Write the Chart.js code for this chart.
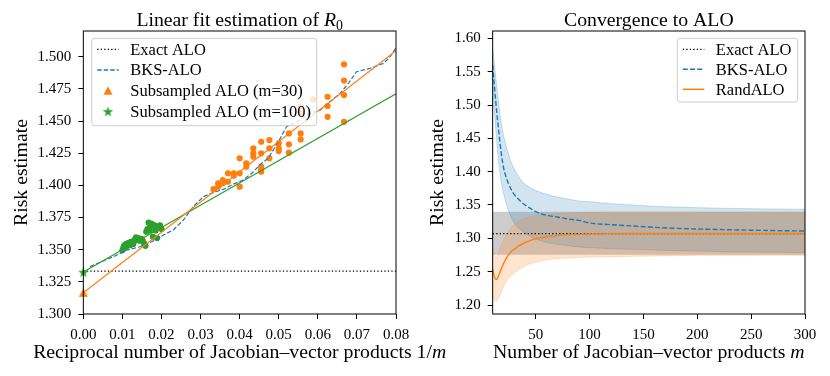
<!DOCTYPE html>
<html><head><meta charset="utf-8">
<script src="https://cdn.jsdelivr.net/npm/chart.js@4.4.1/dist/chart.umd.min.js"></script>
<style>
html,body{margin:0;padding:0;background:#fff;}
#wrap{position:relative;width:830px;height:376px;overflow:hidden;background:#fff;}
canvas{position:absolute;top:0;}
#c1{left:0;} #c2{left:415px;}
</style></head><body>
<div id="wrap"><canvas id="c1" width="480" height="376"></canvas><canvas id="c2" width="415" height="376"></canvas></div>
<script>
// ---------------- DATA: left panel ----------------
const leftXTicks = [0, 0.01, 0.02, 0.03, 0.04, 0.05, 0.06, 0.07, 0.08];
const leftYTicks = [1.300, 1.325, 1.350, 1.375, 1.400, 1.425, 1.450, 1.475, 1.500];
const exactALOLeft = 1.3333;
const bksX = [0.0017,0.0045,0.0077,0.0111,0.0145,0.0175,0.0205,0.0230,0.0256,0.0281,0.0307,0.0333,0.0363,0.0384,0.0409,0.0431,0.0456,0.0473,0.0486,0.0499,0.0520,0.0546,0.0580,0.0606,0.0635,0.0657,0.0680,0.0699,0.0734,0.0768,0.0785,0.0800];
const bksY = [1.3368,1.3405,1.3445,1.3497,1.3523,1.3562,1.3614,1.3653,1.3730,1.3834,1.3912,1.3945,1.3975,1.4010,1.4041,1.4094,1.4171,1.4210,1.4275,1.4340,1.4456,1.4494,1.4560,1.4585,1.4660,1.4715,1.4800,1.4883,1.4910,1.4948,1.5000,1.5070];
const sub30X = [0.0333,0.0345,0.0345,0.0357,0.0357,0.0370,0.0370,0.0385,0.0385,0.0400,0.0400,0.0400,0.0417,0.0417,0.0435,0.0435,0.0435,0.0455,0.0455,0.0455,0.0455,0.0455,0.0476,0.0476,0.0476,0.0500,0.0500,0.0500,0.0526,0.0526,0.0526,0.0556,0.0556,0.0556,0.0556,0.0588,0.0625,0.0625,0.0625,0.0667,0.0667,0.0667,0.0667];
const sub30Y = [1.3970,1.4016,1.3990,1.4041,1.4016,1.4094,1.4028,1.4094,1.4075,1.4210,1.4094,1.3990,1.4171,1.4145,1.4288,1.4249,1.4223,1.4339,1.4249,1.4145,1.4119,1.4106,1.4352,1.4288,1.4210,1.4327,1.4288,1.4267,1.4404,1.4319,1.4254,1.4611,1.4560,1.4404,1.4357,1.4668,1.4689,1.4617,1.4533,1.4940,1.4815,1.4702,1.4494];
const sub100X = [0.0100,0.0102,0.0104,0.0106,0.0108,0.0110,0.0112,0.0114,0.0116,0.0118,0.0120,0.0122,0.0125,0.0128,0.0130,0.0133,0.0135,0.0138,0.0141,0.0143,0.0145,0.0149,0.0152,0.0156,0.0159,0.0161,0.0164,0.0167,0.0170,0.0172,0.0175,0.0178,0.0182,0.0185,0.0189,0.0192,0.0196,0.0200];
const sub100Y = [1.3495,1.3510,1.3525,1.3535,1.3520,1.3545,1.3530,1.3550,1.3540,1.3555,1.3535,1.3560,1.3550,1.3545,1.3570,1.3585,1.3595,1.3575,1.3590,1.3580,1.3570,1.3585,1.3570,1.3545,1.3530,1.3640,1.3660,1.3710,1.3650,1.3680,1.3700,1.3600,1.3690,1.3650,1.3590,1.3680,1.3690,1.3660];
const fitX = [0, 0.08];
const fit30Y = [1.3165, 1.5047];
const fit100Y = [1.3326, 1.4712];
const est30 = 1.3165;
const est100 = 1.3326;

// ---------------- DATA: right panel ----------------
const rightXTicks = [50, 100, 150, 200, 250, 300];
const rightYTicks = [1.20, 1.25, 1.30, 1.35, 1.40, 1.45, 1.50, 1.55, 1.60];
const mVals   = [10,11,12,13,14,15,16,18,20,22,25,28,30,35,40,45,50,60,70,80,90,100,120,140,160,180,200,225,250,275,300];
const bksMean = [1.560,1.540,1.521,1.503,1.486,1.470,1.455,1.427,1.407,1.394,1.381,1.371,1.366,1.357,1.350,1.345,1.340,1.3345,1.332,1.329,1.327,1.323,1.3205,1.3185,1.3165,1.315,1.314,1.313,1.3122,1.3115,1.311];
const bksHi   = [1.585,1.570,1.555,1.540,1.525,1.511,1.498,1.473,1.455,1.442,1.425,1.411,1.404,1.391,1.381,1.376,1.372,1.366,1.362,1.359,1.356,1.355,1.352,1.350,1.348,1.347,1.346,1.345,1.3445,1.344,1.3435];
const bksLo   = [1.530,1.505,1.482,1.461,1.441,1.423,1.408,1.384,1.368,1.355,1.340,1.329,1.323,1.314,1.308,1.303,1.299,1.294,1.291,1.289,1.287,1.286,1.2845,1.2835,1.2825,1.2815,1.281,1.280,1.2795,1.279,1.2785];
const randMean= [1.254,1.246,1.241,1.2385,1.239,1.242,1.246,1.254,1.262,1.268,1.276,1.2815,1.2835,1.2895,1.2935,1.297,1.2995,1.302,1.3045,1.3055,1.306,1.3065,1.307,1.3072,1.3072,1.3072,1.3072,1.3072,1.3072,1.3072,1.3072];
const randHi  = [1.287,1.279,1.274,1.271,1.272,1.276,1.281,1.290,1.297,1.304,1.311,1.317,1.320,1.326,1.330,1.332,1.334,1.336,1.337,1.338,1.3385,1.339,1.3395,1.3395,1.3395,1.3395,1.3395,1.3395,1.3395,1.3395,1.3395];
const randLo  = [1.213,1.209,1.207,1.2065,1.2068,1.209,1.212,1.219,1.2275,1.234,1.241,1.2455,1.248,1.254,1.259,1.262,1.264,1.2675,1.2695,1.2705,1.2712,1.272,1.2725,1.273,1.2735,1.274,1.2745,1.2745,1.2745,1.2745,1.2745];
const exactALORight = 1.307;
const exactBand = [1.2755, 1.3398];

// ---------------- helpers ----------------
const FONT = "'Liberation Serif', 'Times New Roman', serif";
const C_BLUE = '#1f77b4', C_ORANGE = '#ff7f0e', C_GREEN = '#2ca02c';
const pts = (xs, ys) => xs.map((x, i) => ({x, y: ys[i]}));

function makeStar(color, size) {
  const c = document.createElement('canvas'); c.width = c.height = size;
  const g = c.getContext('2d'); g.fillStyle = color; g.beginPath();
  for (let i = 0; i < 10; i++) {
    const r = i % 2 ? size * 0.2 : size / 2;
    const a = -Math.PI / 2 + i * Math.PI / 5;
    g.lineTo(size / 2 + r * Math.cos(a), size / 2 + 0.5 + r * Math.sin(a));
  }
  g.closePath(); g.fill(); return c;
}
function makeTri(color, size) {
  const c = document.createElement('canvas'); c.width = c.height = size;
  const g = c.getContext('2d'); g.fillStyle = color; g.beginPath();
  g.moveTo(size / 2, 0.5); g.lineTo(size - 0.5, size - 1); g.lineTo(0.5, size - 1);
  g.closePath(); g.fill(); return c;
}
const starImg = makeStar(C_GREEN, 11);
const triImg = makeTri(C_ORANGE, 10);

function richText(ctx, segs, x, y, size, align) {
  const parts = segs.map(([t, s]) => {
    const fs = s === 'sub' ? size * 0.7 : size;
    const font = (s === 'i' ? 'italic ' : '') + fs + 'px ' + FONT;
    ctx.font = font;
    return {t, font, w: ctx.measureText(t).width, dy: s === 'sub' ? size * 0.22 : 0};
  });
  const total = parts.reduce((a, p) => a + p.w, 0);
  let cx = align === 'center' ? x - total / 2 : x;
  ctx.textBaseline = 'alphabetic'; ctx.textAlign = 'left'; ctx.fillStyle = '#000';
  parts.forEach(p => { ctx.font = p.font; ctx.fillText(p.t, cx, y + p.dy); cx += p.w; });
}

function labelsPlugin(cfg) {
  return {
    id: 'labels_' + cfg.id,
    afterDraw(chart) {
      const ctx = chart.ctx, a = chart.chartArea;
      const cxm = (a.left + a.right) / 2, cym = (a.top + a.bottom) / 2;
      ctx.save();
      ctx.strokeStyle = '#000'; ctx.lineWidth = 1; ctx.setLineDash([]);
      ctx.strokeRect(a.left, a.top, a.right - a.left, a.bottom - a.top);
      richText(ctx, cfg.title, cxm, 26, 19.75, 'center');
      richText(ctx, cfg.xlabel, cxm, 358, 19.75, 'center');
      ctx.save(); ctx.translate(cfg.ylabelX, cym); ctx.rotate(-Math.PI / 2);
      richText(ctx, [['Risk estimate', 'n']], 0, 0, 19.75, 'center');
      ctx.restore();
      const L = cfg.legend;
      const bx = L.anchor === 'left' ? a.left + L.dx : a.right - L.dx - L.w;
      const by = a.top + L.dy;
      ctx.beginPath();
      if (ctx.roundRect) ctx.roundRect(bx, by, L.w, L.h, 3); else ctx.rect(bx, by, L.w, L.h);
      ctx.fillStyle = 'rgba(255,255,255,0.8)'; ctx.fill();
      ctx.strokeStyle = '#cccccc'; ctx.lineWidth = 1; ctx.stroke();
      L.items.forEach((it, i) => {
        const ry = by + 11 + i * L.step;
        const hx = bx + 5.5, hw = 21.5;
        if (it.kind === 'line') {
          ctx.beginPath(); ctx.setLineDash(it.dash || []);
          ctx.strokeStyle = it.color; ctx.lineWidth = it.width;
          ctx.moveTo(hx, ry); ctx.lineTo(hx + hw, ry); ctx.stroke(); ctx.setLineDash([]);
        } else {
          ctx.drawImage(it.img, hx + hw / 2 - it.img.width / 2, ry - it.img.height / 2);
        }
        ctx.font = '16.5px ' + FONT; ctx.fillStyle = '#000';
        ctx.textBaseline = 'middle'; ctx.textAlign = 'left';
        ctx.fillText(it.text, bx + 38.5, ry + 1);
      });
      ctx.restore();
    }
  };
}

function axisCfg(min, max, ticks, fmt, fit, isX) {
  return {
    type: 'linear', min, max,
    afterBuildTicks: s => { s.ticks = ticks.map(v => ({value: v})); },
    afterFit: s => { if (isX) s.height = fit; else s.width = fit; },
    ticks: { callback: v => fmt(v), font: {family: FONT, size: 15}, color: '#000',
             padding: isX ? 7.5 : 7, maxRotation: 0, autoSkip: false },
    grid: { display: true, drawOnChartArea: false, drawTicks: true, tickLength: 5,
            tickColor: '#000', tickWidth: 1, color: '#000' },
    border: { display: false }
  };
}

const baseOpts = {
  responsive: false, animation: false, devicePixelRatio: 1, events: [],
  plugins: { legend: {display: false}, tooltip: {enabled: false}, title: {display: false} },
  elements: { line: { tension: 0 } }
};

// ---------------- LEFT CHART ----------------
new Chart(document.getElementById('c1'), {
  type: 'line',
  data: { datasets: [
    { data: pts([0, 0.08], [exactALOLeft, exactALOLeft]), borderColor: '#000', borderWidth: 1.3,
      borderDash: [1.3, 2.2], pointRadius: 0, order: 5 },
    { data: pts(bksX, bksY), borderColor: C_BLUE, borderWidth: 1.2, borderDash: [4.5, 2],
      pointRadius: 0, order: 4 },
    { data: pts(fitX, fit30Y), borderColor: C_ORANGE, borderWidth: 1.2, pointRadius: 0, order: 3 },
    { data: pts(fitX, fit100Y), borderColor: C_GREEN, borderWidth: 1.2, pointRadius: 0, order: 3 },
    { data: pts(sub30X, sub30Y), showLine: false, pointRadius: 3.1, pointBorderWidth: 0,
      pointBackgroundColor: C_ORANGE, backgroundColor: C_ORANGE, order: 6 },
    { data: pts(sub100X, sub100Y), showLine: false, pointRadius: 3.1, pointBorderWidth: 0,
      pointBackgroundColor: C_GREEN, backgroundColor: C_GREEN, order: 6 },
    { data: [{x: 0, y: est30}], showLine: false, pointStyle: triImg, pointRadius: 5, clip: false, order: 1 },
    { data: [{x: 0, y: est100}], showLine: false, pointStyle: starImg, pointRadius: 5, clip: false, order: 1 }
  ]},
  options: Object.assign({}, baseOpts, {
    layout: { padding: { top: 31, right: 84, left: 0, bottom: 0 } },
    scales: {
      x: axisCfg(0, 0.08, leftXTicks, v => v.toFixed(2), 62, true),
      y: axisCfg(1.300, 1.520, leftYTicks, v => v.toFixed(3), 83.33, false)
    }
  }),
  plugins: [labelsPlugin({
    id: 'L',
    title: [['Linear fit estimation of ', 'n'], ['R', 'i'], ['0', 'sub']],
    xlabel: [['Reciprocal number of Jacobian\u2013vector products 1/', 'n'], ['m', 'i']],
    ylabelX: 26.5,
    legend: { anchor: 'left', dx: 8.4, dy: 7.3, w: 225, h: 87.4, step: 20.7, items: [
      {kind: 'line', color: '#000', width: 1.3, dash: [1.3, 2.2], text: 'Exact ALO'},
      {kind: 'line', color: C_BLUE, width: 1.3, dash: [4.5, 2], text: 'BKS-ALO'},
      {kind: 'img', img: triImg, text: 'Subsampled ALO (m=30)'},
      {kind: 'img', img: starImg, text: 'Subsampled ALO (m=100)'}
    ]}
  })]
});

// ---------------- RIGHT CHART ----------------
new Chart(document.getElementById('c2'), {
  type: 'line',
  data: { datasets: [
    { data: pts([10, 300], [exactBand[1], exactBand[1]]), fill: '+1', backgroundColor: 'rgba(0,0,0,0.2)',
      borderWidth: 0, pointRadius: 0, order: 10 },
    { data: pts([10, 300], [exactBand[0], exactBand[0]]), borderWidth: 0, pointRadius: 0, order: 10 },
    { data: pts(mVals, bksHi), fill: '+1', backgroundColor: 'rgba(31,119,180,0.2)',
      borderColor: 'rgba(31,119,180,0.22)', borderWidth: 1, pointRadius: 0, order: 9, cubicInterpolationMode: 'monotone' },
    { data: pts(mVals, bksLo), borderColor: 'rgba(31,119,180,0.22)', borderWidth: 1, pointRadius: 0, order: 9, cubicInterpolationMode: 'monotone' },
    { data: pts(mVals, randHi), fill: '+1', backgroundColor: 'rgba(255,127,14,0.2)',
      borderColor: 'rgba(255,127,14,0.22)', borderWidth: 1, pointRadius: 0, order: 8, cubicInterpolationMode: 'monotone' },
    { data: pts(mVals, randLo), borderColor: 'rgba(255,127,14,0.22)', borderWidth: 1, pointRadius: 0, order: 8, cubicInterpolationMode: 'monotone' },
    { data: pts([10, 300], [exactALORight, exactALORight]), borderColor: '#000', borderWidth: 1.3,
      borderDash: [1.3, 2.2], pointRadius: 0, order: 5 },
    { data: pts(mVals, bksMean), borderColor: C_BLUE, borderWidth: 1.4, borderDash: [5, 2.2],
      pointRadius: 0, order: 4, cubicInterpolationMode: 'monotone' },
    { data: pts(mVals, randMean), borderColor: C_ORANGE, borderWidth: 1.4, pointRadius: 0, order: 3,
      cubicInterpolationMode: 'monotone' }
  ]},
  options: Object.assign({}, baseOpts, {
    layout: { padding: { top: 31, right: 25, left: 0, bottom: 0 } },
    scales: {
      x: axisCfg(10, 300, rightXTicks, v => String(Math.round(v)), 62, true),
      y: axisCfg(1.1865, 1.611, rightYTicks, v => v.toFixed(2), 77.67, false)
    }
  }),
  plugins: [labelsPlugin({
    id: 'R',
    title: [['Convergence to ALO', 'n']],
    xlabel: [['Number of Jacobian\u2013vector products ', 'n'], ['m', 'i']],
    ylabelX: 28.3,
    legend: { anchor: 'right', dx: 7.3, dy: 7.3, w: 120.4, h: 63.7, step: 20, items: [
      {kind: 'line', color: '#000', width: 1.3, dash: [1.3, 2.2], text: 'Exact ALO'},
      {kind: 'line', color: C_BLUE, width: 1.4, dash: [5, 2.2], text: 'BKS-ALO'},
      {kind: 'line', color: C_ORANGE, width: 1.5, text: 'RandALO'}
    ]}
  })]
});
</script>
</body></html>
